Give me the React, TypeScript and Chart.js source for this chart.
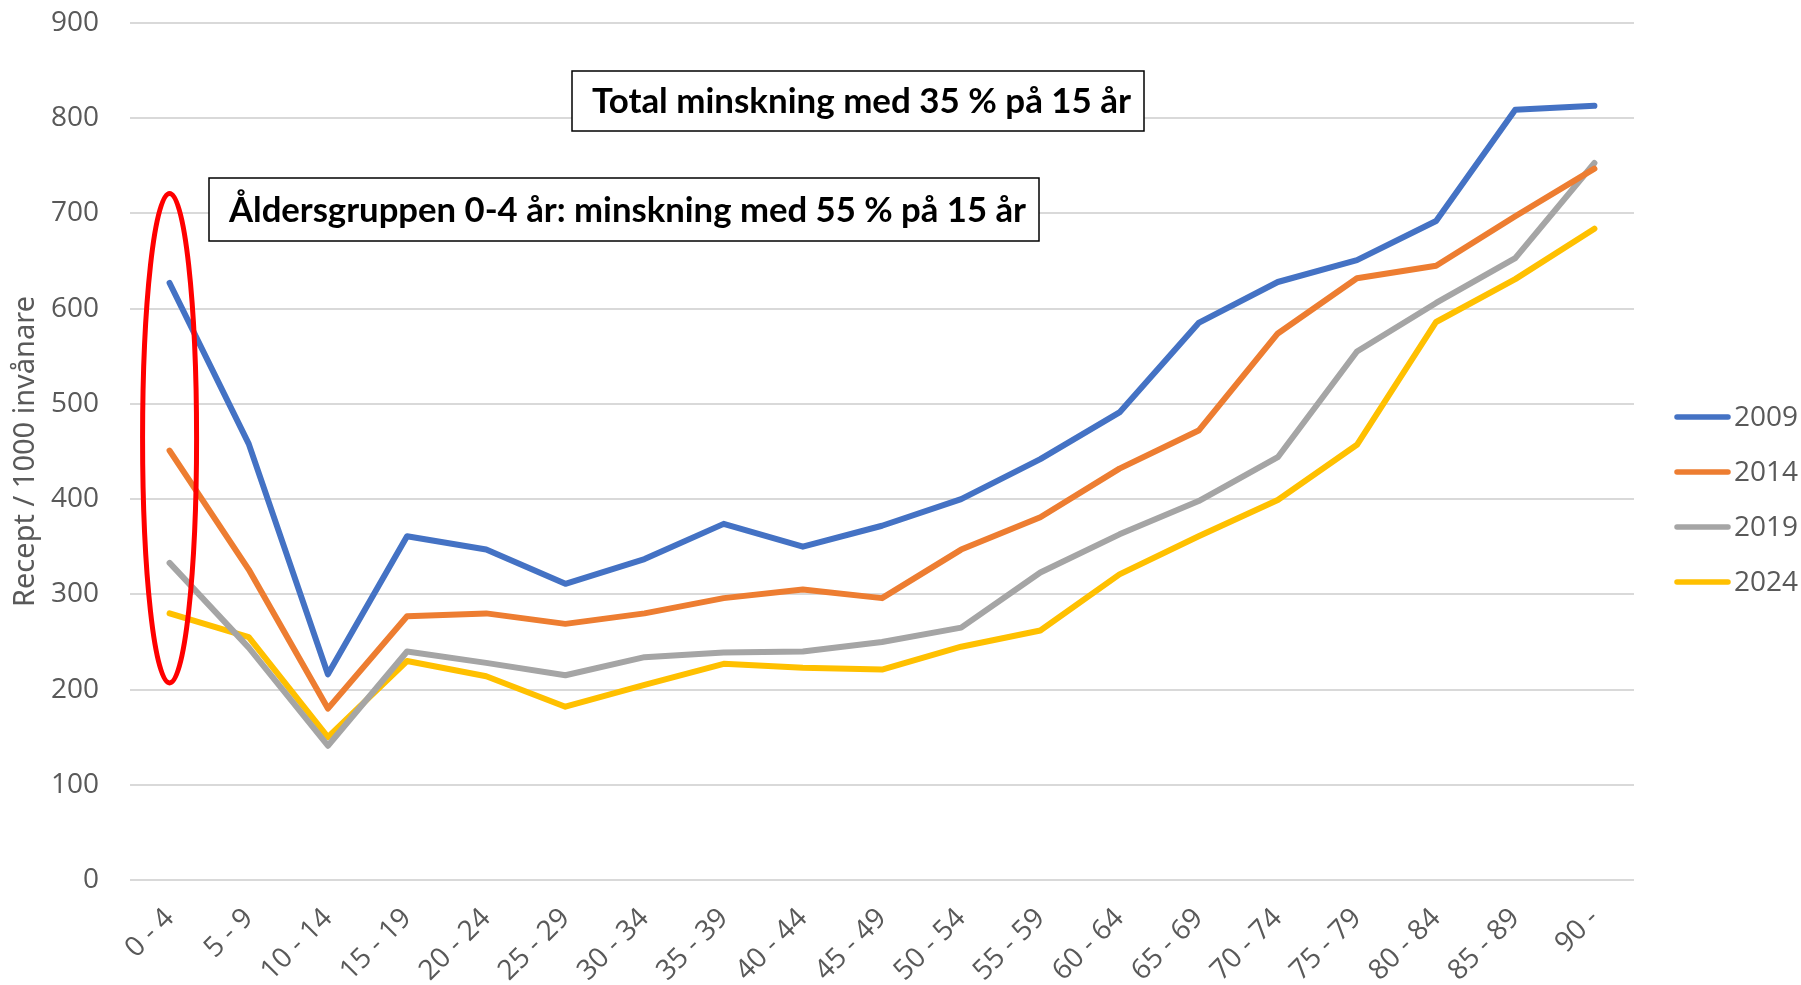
import React, { useEffect, useRef } from "react";
import { Chart, registerables } from "chart.js";

Chart.register(...registerables);

const ageGroups = [
  "0 - 4", "5 - 9", "10 - 14", "15 - 19", "20 - 24", "25 - 29", "30 - 34",
  "35 - 39", "40 - 44", "45 - 49", "50 - 54", "55 - 59", "60 - 64", "65 - 69",
  "70 - 74", "75 - 79", "80 - 84", "85 - 89", "90 -",
];

const series2009 = [627, 458, 216, 361, 347, 311, 337, 374, 350, 372, 400, 442, 491, 585, 628, 651, 692, 809, 813];
const series2014 = [451, 326, 180, 277, 280, 269, 280, 296, 305, 296, 347, 381, 432, 472, 574, 632, 645, 697, 747];
const series2019 = [333, 244, 141, 240, 228, 215, 234, 239, 240, 250, 265, 323, 363, 398, 444, 555, 606, 653, 753];
const series2024 = [280, 255, 150, 230, 214, 182, 205, 227, 223, 221, 245, 262, 321, 361, 399, 457, 586, 631, 684];

const seriesLabels = ["2009", "2014", "2019", "2024"];
const seriesColors = ["#4472C4", "#ED7D31", "#A5A5A5", "#FFC000"];

const yMin = 0;
const yMax = 900;
const yStep = 100;
const yTitle = "Recept / 1000 invånare";

const annotationTexts = [
  "Total minskning med 35 % på 15 år",
  "Åldersgruppen 0-4 år: minskning med 55 % på 15 år",
];
// Ellipse range (value units) around the 0-4 group
const ellipseRange = [721, 207];

const W = 1801;
const H = 985;
const TEXT_COLOR = "#595959";
const TICK_FONT = "'Open Sans', 'DejaVu Sans', sans-serif";

const boxLayout = [
  { x1: 572, y1: 71, x2: 1144, y2: 131, tl: 592, tr: 1131 },
  { x1: 209, y1: 178, x2: 1039, y2: 241, tl: 229, tr: 1026 },
];

const legendLayout = { lineX1: 1677, lineX2: 1728, textX: 1734, y0: 417, dy: 55 };

const overlayPlugin = {
  id: "overlay",
  afterDatasetsDraw(chart: any) {
    const ctx = chart.ctx as CanvasRenderingContext2D;
    const xs = chart.scales.x;
    const ys = chart.scales.y;

    // red ellipse
    ctx.save();
    const cx = xs.getPixelForValue(0);
    const top = ys.getPixelForValue(ellipseRange[0]);
    const bottom = ys.getPixelForValue(ellipseRange[1]);
    ctx.beginPath();
    ctx.ellipse(cx, (top + bottom) / 2, 27, (bottom - top) / 2, 0, 0, Math.PI * 2);
    ctx.strokeStyle = "#FF0000";
    ctx.lineWidth = 5;
    ctx.stroke();
    ctx.restore();

    // annotation boxes
    annotationTexts.forEach((t, i) => {
      const b = boxLayout[i];
      ctx.save();
      ctx.fillStyle = "#ffffff";
      ctx.fillRect(b.x1, b.y1, b.x2 - b.x1, b.y2 - b.y1);
      ctx.strokeStyle = "#000000";
      ctx.lineWidth = 1.5;
      ctx.strokeRect(b.x1, b.y1, b.x2 - b.x1, b.y2 - b.y1);
      ctx.font = "bold 35px Lato, 'Open Sans', sans-serif";
      ctx.fillStyle = "#000000";
      ctx.textBaseline = "middle";
      ctx.textAlign = "left";
      const w = ctx.measureText(t).width;
      const s = (b.tr - b.tl) / w;
      ctx.translate(b.tl, (b.y1 + b.y2) / 2 + 1);
      ctx.scale(s, 1);
      ctx.fillText(t, 0, 0);
      ctx.restore();
    });

    // legend
    chart.data.datasets.forEach((ds: any, i: number) => {
      const y = legendLayout.y0 + i * legendLayout.dy;
      ctx.save();
      ctx.beginPath();
      ctx.moveTo(legendLayout.lineX1, y);
      ctx.lineTo(legendLayout.lineX2, y);
      ctx.strokeStyle = ds.borderColor;
      ctx.lineWidth = 5.5;
      ctx.lineCap = "round";
      ctx.stroke();
      ctx.font = `28px ${TICK_FONT}`;
      ctx.fillStyle = TEXT_COLOR;
      ctx.textBaseline = "middle";
      ctx.textAlign = "left";
      ctx.fillText(ds.label, legendLayout.textX, y + 1);
      ctx.restore();
    });
  },
};

export default function App() {
  const canvasRef = useRef<HTMLCanvasElement | null>(null);

  useEffect(() => {
    document.body.style.margin = "0";
    const canvas = canvasRef.current;
    if (!canvas) return;
    const allSeries = [series2009, series2014, series2019, series2024];
    const chart = new Chart(canvas, {
      type: "line",
      data: {
        labels: ageGroups,
        datasets: allSeries.map((d, i) => ({
          label: seriesLabels[i],
          data: d,
          borderColor: seriesColors[i],
          backgroundColor: seriesColors[i],
          borderWidth: 6,
          pointRadius: 0,
          tension: 0,
          borderJoinStyle: "round" as const,
          borderCapStyle: "round" as const,
        })),
      },
      options: {
        responsive: false,
        animation: false,
        devicePixelRatio: 1,
        layout: { padding: { top: 23, right: 167, left: 0, bottom: 0 } },
        plugins: {
          legend: { display: false },
          tooltip: { enabled: false },
        },
        scales: {
          x: {
            offset: true,
            grid: { display: false },
            border: { display: false },
            ticks: {
              color: TEXT_COLOR,
              font: { family: TICK_FONT, size: 28 },
              minRotation: 45,
              maxRotation: 45,
              padding: 14,
              autoSkip: false,
            },
            afterFit(scale: any) {
              scale.height = 105;
            },
          },
          y: {
            min: yMin,
            max: yMax,
            ticks: {
              stepSize: yStep,
              padding: 31,
              color: TEXT_COLOR,
              font: { family: TICK_FONT, size: 28 },
            },
            grid: { color: "#d9d9d9", lineWidth: 2, drawTicks: false },
            border: { display: false },
            title: {
              display: true,
              text: yTitle,
              color: TEXT_COLOR,
              font: { family: "'Liberation Sans Narrow', 'Noto Sans', sans-serif", size: 29 },
              padding: { top: 8, bottom: 0 },
            },
            afterFit(scale: any) {
              scale.width = 130;
              scale.paddingTop = 0;
              scale.paddingBottom = 0;
            },
          },
        },
      },
      plugins: [overlayPlugin],
    });
    return () => chart.destroy();
  }, []);

  return (
    <div style={{ width: W, height: H, background: "#ffffff" }}>
      <canvas ref={canvasRef} width={W} height={H} style={{ display: "block", width: W, height: H }} />
    </div>
  );
}
